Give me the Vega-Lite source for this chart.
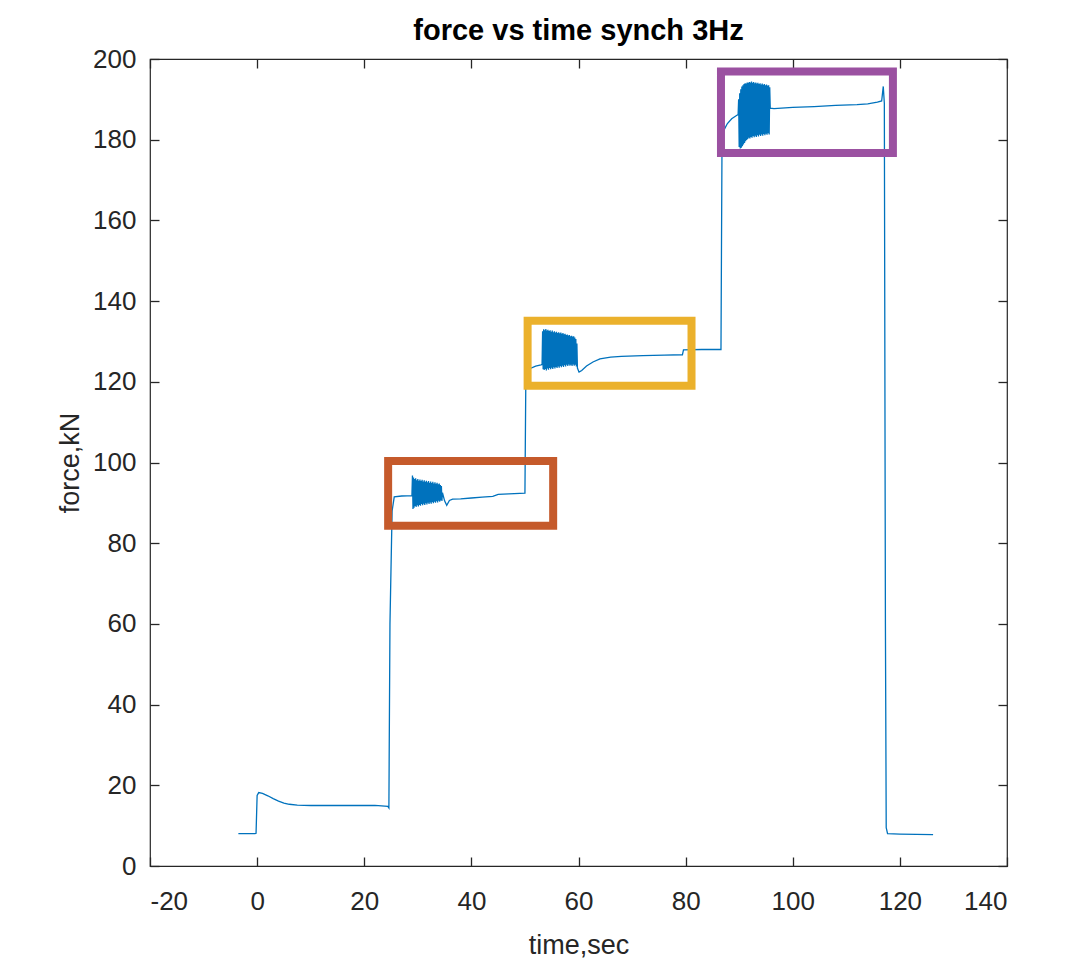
{
  "$schema": "https://vega.github.io/schema/vega-lite/v6.json",
  "width": 857,
  "height": 807,
  "autosize": {"type": "none"},
  "padding": {"left": 150, "top": 59, "right": 59, "bottom": 99},
  "background": "white",
  "title": {"text": "force vs time synch 3Hz", "font": "Liberation Sans", "fontSize": 29, "fontWeight": "bold", "color": "#000000", "anchor": "middle", "offset": 0},
  "config": {
    "view": {"stroke": "#262626", "strokeWidth": 1.2},
    "axis": {"grid": false, "domain": false, "ticks": true, "zindex": 2, "tickColor": "#262626", "tickSize": 9, "tickWidth": 1.3, "tickOpacity": 1, "labelColor": "#262626", "titleColor": "#262626", "labelFont": "Liberation Sans", "titleFont": "Liberation Sans", "labelFontSize": 26, "titleFontSize": 27, "titleFontWeight": "normal", "offset": -9, "labelExpr": "datum.value + ''"}
  },
  "datasets": {
    "series": [
      {"t": -3.5, "f": 8.0}, {"t": -0.4, "f": 8.0}, {"t": -0.2, "f": 8.1}, {"t": 0.0, "f": 17.5}, {"t": 0.3, "f": 18.2}, {"t": 1.0, "f": 18.0}, {"t": 2.0, "f": 17.4}, {"t": 3.0, "f": 16.7}, {"t": 4.0, "f": 16.1}, {"t": 5.0, "f": 15.6}, {"t": 6.0, "f": 15.3}, {"t": 7.5, "f": 15.1}, {"t": 10.0, "f": 15.0}, {"t": 16.0, "f": 15.0}, {"t": 22.0, "f": 15.0}, {"t": 24.4, "f": 14.8}, {"t": 24.6, "f": 14.4},
      {"t": 24.8, "f": 60.0}, {"t": 25.2, "f": 88.0}, {"t": 25.6, "f": 91.5}, {"t": 27.0, "f": 91.7}, {"t": 28.9, "f": 91.8},
      {"t": 29.0, "f": 96.8}, {"t": 29.1, "f": 88.5}, {"t": 29.2, "f": 96.3}, {"t": 29.3, "f": 88.8}, {"t": 29.4, "f": 95.9}, {"t": 29.5, "f": 89.2}, {"t": 29.6, "f": 96.1}, {"t": 29.7, "f": 89.0}, {"t": 29.8, "f": 95.6}, {"t": 29.9, "f": 89.4},
      {"t": 30.0, "f": 95.9}, {"t": 30.1, "f": 89.1}, {"t": 30.2, "f": 95.5}, {"t": 30.3, "f": 89.5}, {"t": 30.4, "f": 95.8}, {"t": 30.5, "f": 89.3}, {"t": 30.6, "f": 95.4}, {"t": 30.7, "f": 89.7}, {"t": 30.8, "f": 95.7}, {"t": 30.9, "f": 89.4},
      {"t": 31.0, "f": 95.3}, {"t": 31.1, "f": 89.8}, {"t": 31.2, "f": 95.6}, {"t": 31.3, "f": 89.5}, {"t": 31.4, "f": 95.2}, {"t": 31.5, "f": 89.9}, {"t": 31.6, "f": 95.5}, {"t": 31.7, "f": 89.6}, {"t": 31.8, "f": 95.1}, {"t": 31.9, "f": 90.0},
      {"t": 32.0, "f": 95.4}, {"t": 32.1, "f": 89.7}, {"t": 32.2, "f": 95.0}, {"t": 32.3, "f": 90.1}, {"t": 32.4, "f": 95.3}, {"t": 32.5, "f": 89.8}, {"t": 32.6, "f": 94.9}, {"t": 32.7, "f": 90.2}, {"t": 32.8, "f": 95.2}, {"t": 32.9, "f": 89.9},
      {"t": 33.0, "f": 94.8}, {"t": 33.1, "f": 90.3}, {"t": 33.2, "f": 95.1}, {"t": 33.3, "f": 90.0}, {"t": 33.4, "f": 94.7}, {"t": 33.5, "f": 90.4}, {"t": 33.6, "f": 95.0}, {"t": 33.7, "f": 90.1}, {"t": 33.8, "f": 94.6}, {"t": 33.9, "f": 90.5},
      {"t": 34.0, "f": 94.8}, {"t": 34.1, "f": 90.3}, {"t": 34.2, "f": 94.4}, {"t": 34.3, "f": 90.6}, {"t": 34.4, "f": 94.2}, {"t": 34.5, "f": 90.5}, {"t": 34.6, "f": 92.5},
      {"t": 35.0, "f": 90.5}, {"t": 35.4, "f": 89.4}, {"t": 35.9, "f": 90.6}, {"t": 36.5, "f": 90.9}, {"t": 38.0, "f": 91.0}, {"t": 40.0, "f": 91.2}, {"t": 42.0, "f": 91.4}, {"t": 44.0, "f": 91.6}, {"t": 45.0, "f": 92.1}, {"t": 47.0, "f": 92.2}, {"t": 50.0, "f": 92.4},
      {"t": 50.15, "f": 118.0}, {"t": 50.4, "f": 122.0}, {"t": 51.0, "f": 123.3}, {"t": 52.0, "f": 123.9}, {"t": 53.0, "f": 124.2}, {"t": 53.2, "f": 124.3},
      {"t": 53.3, "f": 132.5}, {"t": 53.4, "f": 123.1}, {"t": 53.5, "f": 133.0}, {"t": 53.6, "f": 122.9}, {"t": 53.7, "f": 132.8}, {"t": 53.8, "f": 123.2}, {"t": 53.9, "f": 133.1},
      {"t": 54.0, "f": 122.8}, {"t": 54.1, "f": 132.7}, {"t": 54.2, "f": 123.3}, {"t": 54.3, "f": 132.9}, {"t": 54.4, "f": 123.0}, {"t": 54.5, "f": 132.6}, {"t": 54.6, "f": 123.4}, {"t": 54.7, "f": 132.8}, {"t": 54.8, "f": 123.1}, {"t": 54.9, "f": 132.4},
      {"t": 55.0, "f": 123.5}, {"t": 55.1, "f": 132.7}, {"t": 55.2, "f": 123.2}, {"t": 55.3, "f": 132.3}, {"t": 55.4, "f": 123.6}, {"t": 55.5, "f": 132.5}, {"t": 55.6, "f": 123.3}, {"t": 55.7, "f": 132.2}, {"t": 55.8, "f": 123.7}, {"t": 55.9, "f": 132.4},
      {"t": 56.0, "f": 123.4}, {"t": 56.1, "f": 132.1}, {"t": 56.2, "f": 123.8}, {"t": 56.3, "f": 132.3}, {"t": 56.4, "f": 123.5}, {"t": 56.5, "f": 132.0}, {"t": 56.6, "f": 123.9}, {"t": 56.7, "f": 132.2}, {"t": 56.8, "f": 123.6}, {"t": 56.9, "f": 131.9},
      {"t": 57.0, "f": 124.0}, {"t": 57.1, "f": 132.1}, {"t": 57.2, "f": 123.7}, {"t": 57.3, "f": 131.8}, {"t": 57.4, "f": 124.1}, {"t": 57.5, "f": 131.9}, {"t": 57.6, "f": 123.8}, {"t": 57.7, "f": 131.6}, {"t": 57.8, "f": 124.2}, {"t": 57.9, "f": 131.7},
      {"t": 58.0, "f": 123.9}, {"t": 58.1, "f": 131.5}, {"t": 58.2, "f": 124.3}, {"t": 58.3, "f": 131.6}, {"t": 58.4, "f": 124.0}, {"t": 58.5, "f": 131.3}, {"t": 58.6, "f": 124.2}, {"t": 58.7, "f": 131.4}, {"t": 58.8, "f": 123.9}, {"t": 58.9, "f": 131.2},
      {"t": 59.0, "f": 124.3}, {"t": 59.1, "f": 131.3}, {"t": 59.2, "f": 124.0}, {"t": 59.3, "f": 131.0}, {"t": 59.4, "f": 124.2}, {"t": 59.5, "f": 130.6}, {"t": 59.6, "f": 123.8}, {"t": 59.7, "f": 129.5}, {"t": 59.8, "f": 123.4},
      {"t": 60.1, "f": 122.4}, {"t": 60.6, "f": 122.8}, {"t": 61.5, "f": 123.9}, {"t": 62.7, "f": 124.9}, {"t": 64.0, "f": 125.7}, {"t": 66.0, "f": 126.1}, {"t": 68.0, "f": 126.3}, {"t": 72.0, "f": 126.5}, {"t": 76.0, "f": 126.6}, {"t": 79.4, "f": 126.7}, {"t": 79.6, "f": 127.9}, {"t": 83.0, "f": 128.0}, {"t": 86.6, "f": 128.0},
      {"t": 86.8, "f": 181.0}, {"t": 87.2, "f": 182.5}, {"t": 87.8, "f": 184.0}, {"t": 88.6, "f": 185.2}, {"t": 89.5, "f": 186.0}, {"t": 89.8, "f": 186.2},
      {"t": 89.9, "f": 190.0}, {"t": 90.0, "f": 178.2}, {"t": 90.1, "f": 191.5}, {"t": 90.2, "f": 177.8}, {"t": 90.3, "f": 192.5}, {"t": 90.4, "f": 178.0}, {"t": 90.5, "f": 193.2}, {"t": 90.6, "f": 178.4}, {"t": 90.7, "f": 193.5}, {"t": 90.8, "f": 178.8}, {"t": 90.9, "f": 193.8},
      {"t": 91.0, "f": 179.2}, {"t": 91.1, "f": 194.0}, {"t": 91.2, "f": 179.6}, {"t": 91.3, "f": 193.9}, {"t": 91.4, "f": 179.9}, {"t": 91.5, "f": 194.2}, {"t": 91.6, "f": 180.2}, {"t": 91.7, "f": 194.1}, {"t": 91.8, "f": 180.5}, {"t": 91.9, "f": 194.3},
      {"t": 92.0, "f": 180.3}, {"t": 92.1, "f": 194.2}, {"t": 92.2, "f": 180.7}, {"t": 92.3, "f": 194.4}, {"t": 92.4, "f": 180.5}, {"t": 92.5, "f": 194.1}, {"t": 92.6, "f": 180.9}, {"t": 92.7, "f": 194.3}, {"t": 92.8, "f": 180.6}, {"t": 92.9, "f": 194.0},
      {"t": 93.0, "f": 181.0}, {"t": 93.1, "f": 194.2}, {"t": 93.2, "f": 180.7}, {"t": 93.3, "f": 193.9}, {"t": 93.4, "f": 181.1}, {"t": 93.5, "f": 194.1}, {"t": 93.6, "f": 180.8}, {"t": 93.7, "f": 193.8}, {"t": 93.8, "f": 181.2}, {"t": 93.9, "f": 194.0},
      {"t": 94.0, "f": 180.9}, {"t": 94.1, "f": 193.7}, {"t": 94.2, "f": 181.3}, {"t": 94.3, "f": 193.9}, {"t": 94.4, "f": 181.0}, {"t": 94.5, "f": 193.6}, {"t": 94.6, "f": 181.4}, {"t": 94.7, "f": 193.8}, {"t": 94.8, "f": 181.1}, {"t": 94.9, "f": 193.5},
      {"t": 95.0, "f": 181.5}, {"t": 95.1, "f": 193.7}, {"t": 95.2, "f": 181.2}, {"t": 95.3, "f": 193.4}, {"t": 95.4, "f": 181.6}, {"t": 95.5, "f": 193.5}, {"t": 95.6, "f": 181.3}, {"t": 95.7, "f": 193.0}, {"t": 95.8, "f": 187.8},
      {"t": 96.5, "f": 187.7}, {"t": 100.0, "f": 188.0}, {"t": 104.0, "f": 188.2}, {"t": 108.0, "f": 188.5}, {"t": 112.0, "f": 188.7}, {"t": 114.0, "f": 188.9}, {"t": 115.8, "f": 189.3}, {"t": 116.6, "f": 189.6}, {"t": 116.9, "f": 193.2}, {"t": 117.1, "f": 189.0}, {"t": 117.3, "f": 60.0}, {"t": 117.45, "f": 9.5}, {"t": 117.7, "f": 8.0}, {"t": 120.0, "f": 7.9}, {"t": 126.2, "f": 7.8}
    ],
    "boxes": [
      {"box": "a", "x1": 24.46, "x2": 55.27, "y1": 84.3, "y2": 100.4},
      {"box": "b", "x1": 50.5, "x2": 81.1, "y1": 119.0, "y2": 135.1},
      {"box": "c", "x1": 86.6, "x2": 118.7, "y1": 176.7, "y2": 196.9}
    ]
  },
  "layer": [
    {
      "data": {"name": "series"},
      "mark": {"type": "line", "color": "#0072BD", "strokeWidth": 1.3, "clip": true},
      "encoding": {
        "x": {"field": "t", "type": "quantitative", "scale": {"domain": [-20, 140], "nice": false, "zero": false},
              "axis": {"orient": "bottom", "values": [-20, 0, 20, 40, 60, 80, 100, 120, 140], "title": "time,sec", "labelPadding": 22, "titlePadding": 18}},
        "y": {"field": "f", "type": "quantitative", "scale": {"domain": [0, 200], "nice": false, "zero": false},
              "axis": {"orient": "left", "values": [0, 20, 40, 60, 80, 100, 120, 140, 160, 180, 200], "title": "force,kN", "labelPadding": 14, "titlePadding": 8}}
      }
    },
    {
      "data": {"name": "boxes"},
      "mark": {"type": "rect", "filled": false, "strokeWidth": 8},
      "encoding": {
        "x": {"field": "x1", "type": "quantitative", "scale": {"domain": [-20, 140], "nice": false, "zero": false}, "axis": null},
        "x2": {"field": "x2"},
        "y": {"field": "y1", "type": "quantitative", "scale": {"domain": [0, 200], "nice": false, "zero": false}, "axis": null},
        "y2": {"field": "y2"},
        "color": {"field": "box", "type": "nominal", "scale": {"domain": ["a", "b", "c"], "range": ["#C55A2B", "#EBB12C", "#9B51A1"]}, "legend": null}
      }
    },
    {
      "data": {"name": "series"},
      "mark": {"type": "point", "opacity": 0},
      "encoding": {
        "x": {"field": "t", "type": "quantitative", "scale": {"domain": [-20, 140], "nice": false, "zero": false},
              "axis": {"orient": "top", "values": [-20, 0, 20, 40, 60, 80, 100, 120, 140], "labels": false, "title": null}},
        "y": {"field": "f", "type": "quantitative", "scale": {"domain": [0, 200], "nice": false, "zero": false},
              "axis": {"orient": "right", "values": [0, 20, 40, 60, 80, 100, 120, 140, 160, 180, 200], "labels": false, "title": null}}
      }
    }
  ],
  "resolve": {"axis": {"x": "independent", "y": "independent"}}
}
